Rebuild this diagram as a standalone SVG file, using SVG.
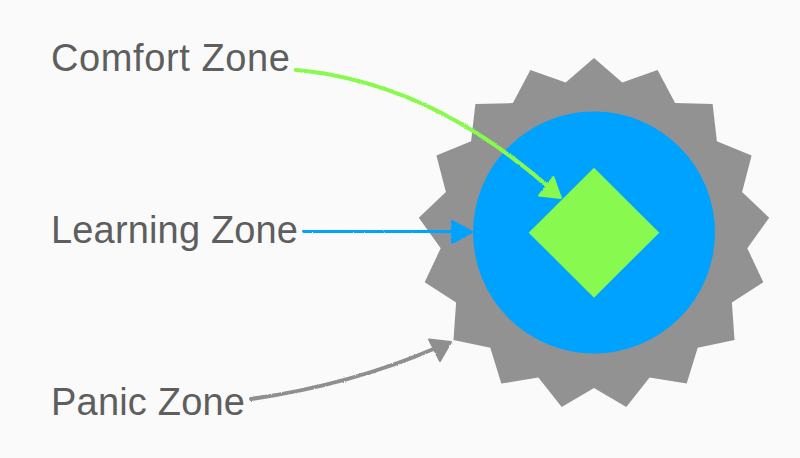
<svg xmlns="http://www.w3.org/2000/svg" width="800" height="458" viewBox="0 0 800 458">
  <defs>
    <filter id="pencil" x="-10%" y="-10%" width="120%" height="120%">
      <feTurbulence type="fractalNoise" baseFrequency="0.9" numOctaves="2" seed="3" result="n"/>
      <feDisplacementMap in="SourceGraphic" in2="n" scale="2.2" xChannelSelector="R" yChannelSelector="G"/>
    </filter>
    <style>
      .label { font-family: "Liberation Sans", Arial, Helvetica, sans-serif; font-size: 38px; fill: #5e5e5e; }
      .wire { fill: none; stroke-width: 4; stroke-linecap: round; stroke-linejoin: round; filter: url(#pencil); }
      .head { stroke-width: 2; stroke-linejoin: round; filter: url(#pencil); }
      .green { stroke: #88f94e; }
      .blue { stroke: #00a2ff; }
      .grey { stroke: #8f8f8f; }
    </style>
  </defs>
  <rect width="800" height="458" fill="#fafafa"/>

  <g id="panic-zone">
    <polygon fill="#929292" points="594,58 622.3,82.6 657.6,69.9 675.1,103.1 712.6,103.9 716.9,141.2 751.6,155.6 742.1,191.9 769.2,217.8 747.3,248.2 763.3,282.2 731.9,302.6 734.5,340.1 697.7,347.8 686.7,383.6 649.6,377.6 626.3,407 594,388 561.7,407 538.4,377.6 501.3,383.6 490.3,347.8 453.5,340.1 456.1,302.6 424.7,282.2 440.7,248.2 418.8,217.8 445.9,191.9 436.4,155.6 471.1,141.2 475.4,103.9 512.9,103.1 530.4,69.9 565.7,82.6"/>
  </g>
  <g id="learning-zone">
    <circle cx="594" cy="232.5" r="121" fill="#00a2ff"/>
  </g>
  <g id="comfort-zone">
    <polygon fill="#88f94e" points="594,167.7 659.3,232.7 594,297.7 528.7,232.7"/>
  </g>

  <g id="labels">
    <text id="label-comfort" class="label" x="51" y="71" textLength="239" lengthAdjust="spacing">Comfort Zone</text>
    <text id="label-learning" class="label" x="51" y="243" textLength="247" lengthAdjust="spacing">Learning Zone</text>
    <text id="label-panic" class="label" x="51" y="415" textLength="194" lengthAdjust="spacing">Panic Zone</text>
  </g>

  <g id="connectors">
    <path class="wire green" d="M296,70 Q430,82 552,190"/>
    <polygon class="head green" fill="#88f94e" points="553.3,177 539,195.5 561,198"/>
    <path class="wire blue" d="M304,231 L456,232"/>
    <polygon class="head blue" fill="#00a2ff" points="452,221 452,243 472,232"/>
    <path class="wire grey" d="M251,399 Q350,385 436,348"/>
    <polygon class="head grey" fill="#8f8f8f" points="429,339.5 440,361 451,342"/>
  </g>
</svg>
